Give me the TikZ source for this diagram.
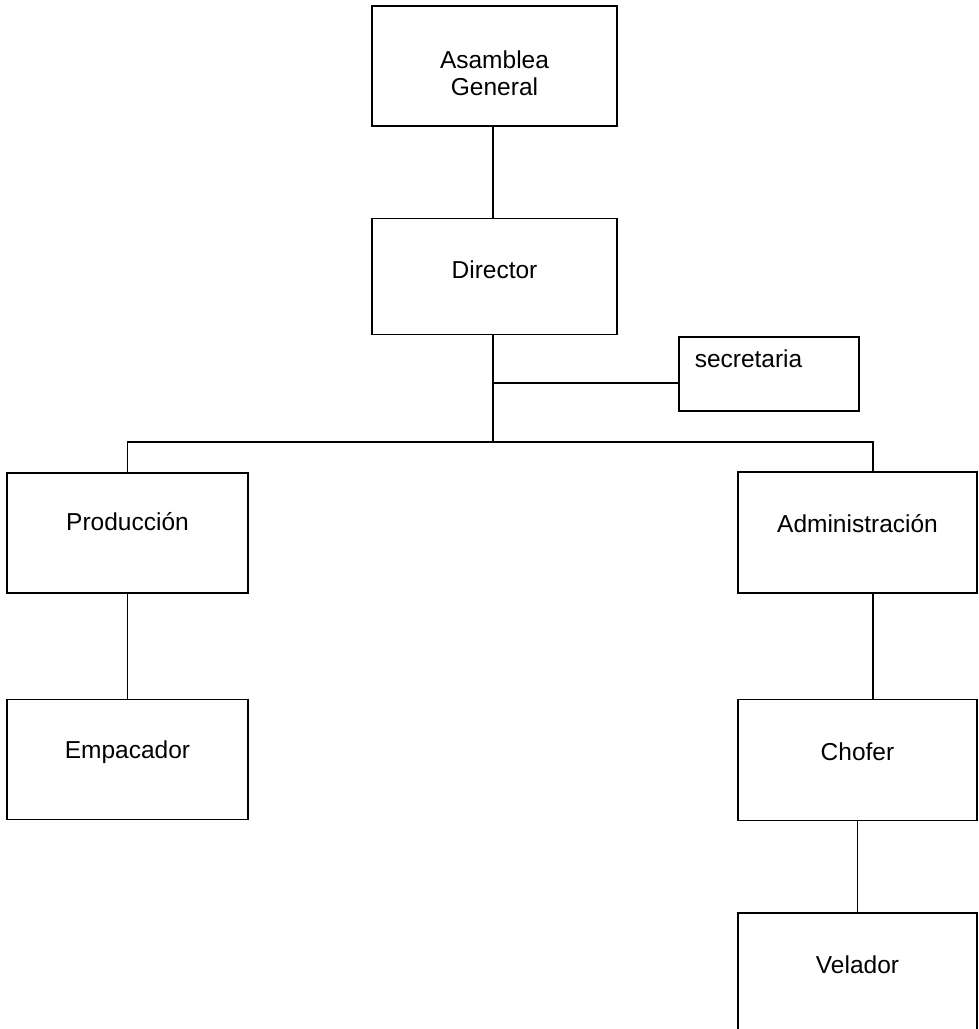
\documentclass[tikz,border=0pt]{standalone}
\usepackage{fontspec}
\setmainfont{Liberation Sans}
\usetikzlibrary{positioning}
\tikzset{
	block base/.style={draw, rectangle, line width=1.5pt, align=center, inner sep=0pt, font=\fontsize{24.5}{27}\selectfont},
	one line/.style={text height=20pt, text depth=20pt},
	link/.style={line width=1.5pt},
}
\begin{document}
\begin{tikzpicture}[x=1pt,y=-1pt]
	\useasboundingbox (0,0) rectangle (979,1029);
	% top of the chart
	\node [block base,minimum width=245pt,minimum height=120pt] (asamblea) at (494.5,66) {\rule{0pt}{33pt}Asamblea\\General};
	\node [block base,one line,text depth=16pt,minimum width=245pt,minimum height=116pt,below=91pt of asamblea] (director) {Director};
	\node [block base,anchor=north west,align=left,text width=148pt,inner xsep=16pt,inner ysep=8pt,text height=23pt,text depth=35pt] (secretaria) at (678,336) {secretaria};

	% the two branches
	\node [block base,one line,text depth=26pt,minimum width=241pt,minimum height=120pt] (produccion) at (127.5,533) {Producción};
	\node [block base,one line,text depth=22pt,minimum width=241pt,minimum height=120pt,below=105pt of produccion] (empacador) {Empacador};
	\node [block base,one line,minimum width=239pt,minimum height=121pt] (administracion) at (857.5,532.5) {Administración};
	\node [block base,one line,minimum width=239pt,minimum height=121pt,below=105pt of administracion] (chofer) {Chofer};
	\node [block base,one line,text depth=26pt,minimum width=239pt,minimum height=126pt,below=91pt of chofer] (velador) {Velador};

	\coordinate (bus) at (493,442);
	\coordinate (secin) at ([yshift=-9pt]secretaria.west);
	\draw [link] (asamblea.south -| bus) -- (director.north -| bus);
	\draw [link] (director.south -| bus) -- (bus);
	\draw [link] (bus |- secin) -- (secin);
	\draw [link] (produccion.north) |- (bus) -| ([xshift=15.5pt]administracion.north);
	\draw [link] (produccion) -- (empacador);
	\draw [link] ([xshift=15.5pt]administracion.south) -- ([xshift=15.5pt]chofer.north);
	\draw [link] (chofer) -- (velador);
\end{tikzpicture}
\end{document}
